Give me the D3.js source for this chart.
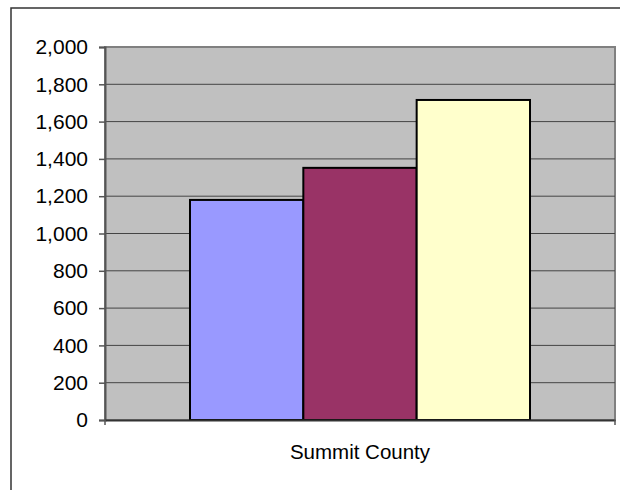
<!DOCTYPE html>
<html>
<head>
<meta charset="utf-8">
<script src="https://d3js.org/d3.v7.min.js"></script>
<style>
  body { margin: 0; background: #fff; }
  text { font-family: "Liberation Sans", Arial, sans-serif; fill: #000; }
</style>
</head>
<body>
<div id="chart"></div>
<script>
var categories = ["Summit County"];
var seriesNames = ["Series 1", "Series 2", "Series 3"];
var seriesValues = [1180, 1352, 1716];
var seriesColors = ["#9999ff", "#993366", "#ffffcc"];
var yTicks = [0, 200, 400, 600, 800, 1000, 1200, 1400, 1600, 1800, 2000];

var width = 620, height = 490;
var plot = { left: 105, right: 615, top: 47, bottom: 420 };

var svg = d3.select("#chart")
    .append("svg")
    .attr("width", width)
    .attr("height", height);

// outer chart frame (cut off at right and bottom)
svg.append("path")
    .attr("d", "M11,491 L11,8 L621,8")
    .attr("fill", "none")
    .attr("stroke", "#333")
    .attr("stroke-width", 1.5);

var y = d3.scaleLinear()
    .domain([0, 2000])
    .range([plot.bottom, plot.top]);

var x = d3.scaleBand()
    .domain(categories)
    .range([plot.left, plot.right]);

// gap width 150% -> bars take 3/(3+1.5) of the band
var groupWidth = x.bandwidth() * 3 / 4.5;
var inner = d3.scaleBand()
    .domain(seriesNames)
    .range([0, groupWidth]);

// plot area background
svg.append("rect")
    .attr("x", plot.left)
    .attr("y", plot.top)
    .attr("width", plot.right - plot.left)
    .attr("height", plot.bottom - plot.top)
    .attr("fill", "#c0c0c0")
    .attr("stroke", "#808080")
    .attr("stroke-width", 2);

// gridlines
svg.selectAll(".grid")
    .data(yTicks.slice(1, -1))
    .enter().append("line")
    .attr("x1", plot.left)
    .attr("x2", plot.right)
    .attr("y1", d => y(d))
    .attr("y2", d => y(d))
    .attr("stroke", "#444")
    .attr("stroke-width", 1);

// bars
categories.forEach(function (cat) {
    var x0 = x(cat) + (x.bandwidth() - groupWidth) / 2;
    svg.selectAll(".bar")
        .data(seriesValues)
        .enter().append("rect")
        .attr("x", (d, i) => x0 + inner(seriesNames[i]))
        .attr("y", d => y(d))
        .attr("width", inner.bandwidth())
        .attr("height", d => plot.bottom - y(d))
        .attr("fill", (d, i) => seriesColors[i])
        .attr("stroke", "#000")
        .attr("stroke-width", 2);
});

// y axis
var yAxis = d3.axisLeft(y)
    .tickValues(yTicks)
    .tickSize(6)
    .tickPadding(11)
    .tickFormat(d3.format(","));

var gy = svg.append("g")
    .attr("transform", "translate(" + plot.left + ",0)")
    .call(yAxis);
gy.select(".domain").attr("stroke", "#555").attr("stroke-width", 2);
gy.selectAll(".tick line").attr("stroke", "#555").attr("stroke-width", 1.5);
gy.selectAll("text")
    .style("font-size", "21px")
    .attr("fill", "#000");

// x axis
var gx = svg.append("g")
    .attr("transform", "translate(0," + plot.bottom + ")")
    .call(d3.axisBottom(x).tickSize(0).tickPadding(24));
gx.select(".domain").attr("stroke", "#333").attr("stroke-width", 2);
gx.selectAll("text")
    .style("font-size", "20.5px")
    .attr("fill", "#000");

// category boundary ticks
svg.selectAll(".xtick")
    .data([plot.left, plot.right])
    .enter().append("line")
    .attr("x1", d => d)
    .attr("x2", d => d)
    .attr("y1", plot.bottom)
    .attr("y2", plot.bottom + 5)
    .attr("stroke", "#555")
    .attr("stroke-width", 1.5);
</script>
</body>
</html>
